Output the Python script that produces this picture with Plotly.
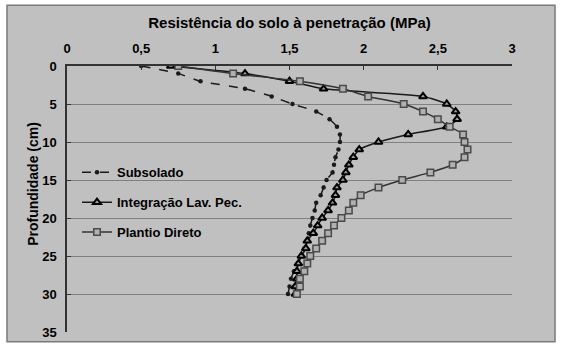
import plotly.graph_objects as go

depth = list(range(0, 31))

subsolado = [0.50, 0.75, 0.90, 1.20, 1.38, 1.52, 1.68, 1.77, 1.82, 1.84,
             1.84, 1.83, 1.81, 1.80, 1.79, 1.75, 1.73, 1.71, 1.68, 1.67,
             1.655, 1.64, 1.63, 1.62, 1.60, 1.58, 1.555, 1.53, 1.51, 1.50, 1.49]

integracao = [0.70, 1.20, 1.50, 1.73, 2.40, 2.56, 2.62, 2.63, 2.56, 2.30,
              2.10, 1.97, 1.93, 1.90, 1.88, 1.86, 1.82, 1.81, 1.79, 1.76,
              1.72, 1.69, 1.66, 1.62, 1.61, 1.58, 1.56, 1.55, 1.55, 1.54, 1.54]

plantio = [0.75, 1.12, 1.57, 1.86, 2.03, 2.27, 2.40, 2.50, 2.58, 2.67,
           2.68, 2.70, 2.68, 2.60, 2.45, 2.26, 2.10, 1.98, 1.93, 1.90,
           1.85, 1.80, 1.76, 1.72, 1.68, 1.64, 1.62, 1.60, 1.57, 1.57, 1.55]

x_ticks = [0, 0.5, 1, 1.5, 2, 2.5, 3]
x_ticktext = ["0", "0,5", "1", "1,5", "2", "2,5", "3"]
y_ticks = [0, 5, 10, 15, 20, 25, 30, 35]

x_title = "Resistência do solo à penetração (MPa)"
y_title = "Profundidade (cm)"

BG = "#c0c0c0"
FAM = "Liberation Sans, Arial, sans-serif"
FONT = dict(family=FAM, size=13, color="#000000", weight="bold")
TFONT = dict(family=FAM, size=15, color="#000000", weight="bold")
YFONT = dict(family=FAM, size=14, color="#000000", weight="bold")

fig = go.Figure()
fig.add_trace(go.Scatter(
    x=subsolado, y=depth, name="Subsolado", mode="lines+markers",
    legendgroup="a",
    line=dict(color="#1a1a1a", width=1.5, dash="dash", shape="spline", smoothing=0.6),
    marker=dict(symbol="circle", size=4.5, color="#1a1a1a"),
))
fig.add_trace(go.Scatter(
    x=integracao, y=depth, name="Integração Lav. Pec.", mode="lines+markers",
    legendgroup="b",
    line=dict(color="#1a1a1a", width=1.5, shape="spline", smoothing=0.6),
    marker=dict(symbol="triangle-up", size=7, color="#a0a0a0", line=dict(color="#000000", width=2)),
))
fig.add_trace(go.Scatter(
    x=plantio, y=depth, name="Plantio Direto", mode="lines+markers",
    legendgroup="c",
    line=dict(color="#333333", width=1.5, shape="spline", smoothing=0.6),
    marker=dict(symbol="square", size=6.5, color="#b0b0b0", line=dict(color="#4a4a4a", width=1.5)),
))

# chart-area background box (pixels -> paper coordinates)
L, R, T, B = 67, 512, 66, 337
W, H = R - L, B - T
def px(xp):
    return (xp - L) / W
def py(yp):
    return (B - yp) / H

fig.add_shape(type="rect", xref="paper", yref="paper",
              x0=px(7), x1=px(555), y0=py(347), y1=py(4),
              fillcolor=BG, line=dict(color="#7a7a7a", width=1.5), layer="below")

fig.add_annotation(text=y_title, xref="paper", yref="paper", x=px(33), y=py(186),
                   xanchor="center", yanchor="middle", textangle=-90, showarrow=False,
                   font=YFONT)

fig.update_layout(
    width=561, height=352,
    margin=dict(l=L, r=561 - R, t=T, b=352 - B),
    paper_bgcolor="#ffffff", plot_bgcolor=BG,
    font=FONT,
    showlegend=True,
    legend=dict(x=px(77), y=py(159), xanchor="left", yanchor="top",
                bgcolor="rgba(0,0,0,0)", font=FONT, tracegroupgap=10,
                itemwidth=30),
    xaxis=dict(side="top", range=[0, 3], tickvals=x_ticks, ticktext=x_ticktext,
               showgrid=False, zeroline=False, showline=True, linecolor="#333333", linewidth=1.5,
               ticks="inside", ticklen=4, tickcolor="#333333", tickfont=FONT,
               title=dict(text=x_title, font=TFONT, standoff=9),
               ticklabelstandoff=6),
    yaxis=dict(range=[35, 0], tickvals=y_ticks, showgrid=True, gridcolor="#808080", gridwidth=1,
               zeroline=False, showline=True, linecolor="#333333", linewidth=1.5,
               ticks="inside", ticklen=4, tickcolor="#333333", tickfont=FONT,
               ticklabelstandoff=6),
)

fig.write_html("out.html")
